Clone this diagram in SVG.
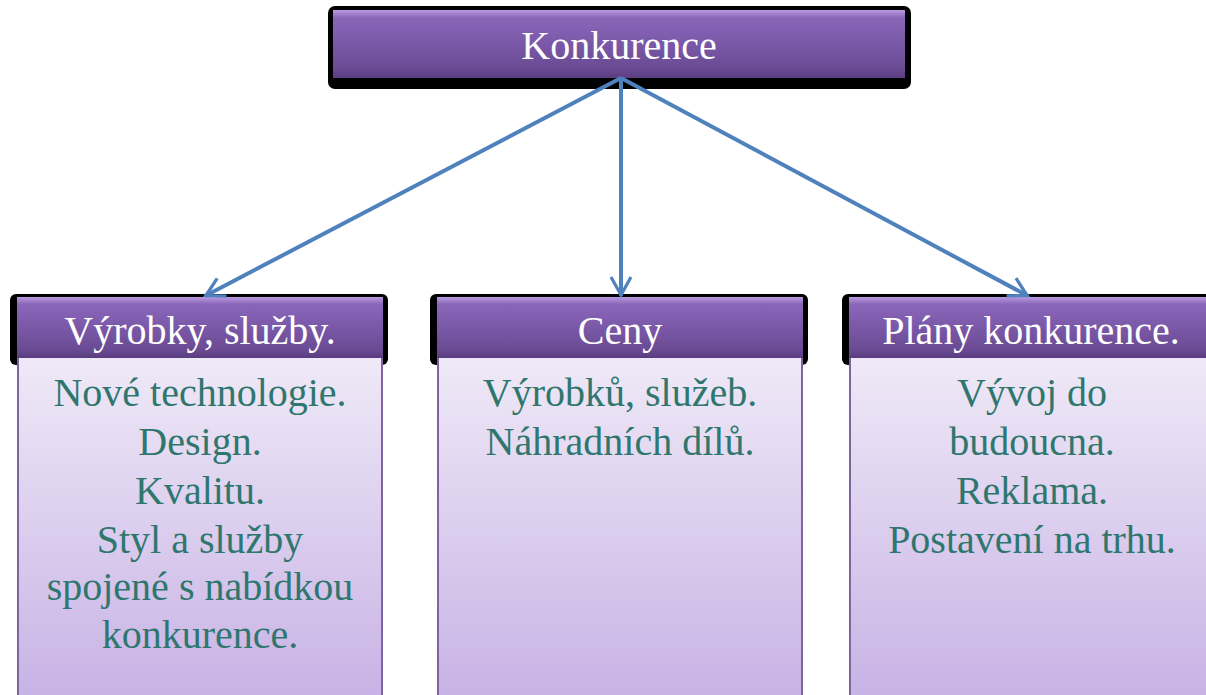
<svg xmlns="http://www.w3.org/2000/svg" width="1206" height="695" viewBox="0 0 1206 695">
  <defs>
    <linearGradient id="bar" x1="0" y1="0" x2="0" y2="1">
      <stop offset="0" stop-color="#b89ae0"/>
      <stop offset="0.12" stop-color="#8a66b8"/>
      <stop offset="0.5" stop-color="#7a58a8"/>
      <stop offset="0.88" stop-color="#694a92"/>
      <stop offset="1" stop-color="#5a3c80"/>
    </linearGradient>
    <linearGradient id="panel" x1="0" y1="0" x2="0" y2="1">
      <stop offset="0" stop-color="#efe9f7"/>
      <stop offset="1" stop-color="#c7b2e5"/>
    </linearGradient>
    <marker id="arrow" viewBox="0 0 12 12" refX="10.5" refY="6" markerWidth="6" markerHeight="6" orient="auto" markerUnits="strokeWidth">
      <path d="M1,1 L10,6 L1,11" fill="none" stroke="#4f81bd" stroke-width="1.6" stroke-linejoin="miter"/>
    </marker>
    <style>
      .shadow { fill: #000; }
      .bar { fill: url(#bar); }
      .panel { fill: url(#panel); }
      .edge { stroke: #8064a2; stroke-width: 2; }
      .title { font-family: "Liberation Serif", "Times New Roman", serif; font-size: 40px; fill: #ffffff; text-anchor: middle; }
      .body { font-family: "Liberation Serif", "Times New Roman", serif; font-size: 40px; fill: #2f776e; text-anchor: middle; }
      .link { stroke: #4f81bd; stroke-width: 4; fill: none; marker-end: url(#arrow); }
    </style>
  </defs>

  <rect width="1206" height="695" fill="#ffffff"/>

  <!-- root node -->
  <g id="node-konkurence">
    <rect class="shadow" x="328" y="6" width="583" height="83" rx="7"/>
    <rect class="bar" x="333" y="10" width="572" height="68"/>
    <text class="title" x="619" y="59">Konkurence</text>
  </g>

  <!-- products / services -->
  <g id="node-vyrobky">
    <rect class="shadow" x="10" y="294" width="378" height="71" rx="6"/>
    <rect class="bar" x="17" y="297" width="366" height="61"/>
    <text class="title" x="200" y="344">Výrobky, služby.</text>
    <rect class="panel" x="18" y="358" width="364" height="343"/>
    <line class="edge" x1="18" y1="358" x2="18" y2="695"/>
    <line class="edge" x1="382" y1="358" x2="382" y2="695"/>
    <text class="body" x="200" y="406">Nové technologie.</text>
    <text class="body" x="200" y="455">Design.</text>
    <text class="body" x="200" y="504">Kvalitu.</text>
    <text class="body" x="200" y="553">Styl a služby</text>
    <text class="body" x="200" y="600">spojené s nabídkou</text>
    <text class="body" x="200" y="648">konkurence.</text>
  </g>

  <!-- prices -->
  <g id="node-ceny">
    <rect class="shadow" x="430" y="294" width="378" height="71" rx="6"/>
    <rect class="bar" x="437" y="297" width="366" height="61"/>
    <text class="title" x="620" y="344">Ceny</text>
    <rect class="panel" x="438" y="358" width="364" height="343"/>
    <line class="edge" x1="438" y1="358" x2="438" y2="695"/>
    <line class="edge" x1="802" y1="358" x2="802" y2="695"/>
    <text class="body" x="620" y="406">Výrobků, služeb.</text>
    <text class="body" x="620" y="455">Náhradních dílů.</text>
  </g>

  <!-- competitor plans -->
  <g id="node-plany">
    <rect class="shadow" x="842" y="294" width="378" height="71" rx="6"/>
    <rect class="bar" x="849" y="297" width="366" height="61"/>
    <text class="title" x="1031" y="344">Plány konkurence.</text>
    <rect class="panel" x="850" y="358" width="364" height="343"/>
    <line class="edge" x1="850" y1="358" x2="850" y2="695"/>
    <text class="body" x="1032" y="406">Vývoj do</text>
    <text class="body" x="1032" y="455">budoucna.</text>
    <text class="body" x="1032" y="504">Reklama.</text>
    <text class="body" x="1032" y="553">Postavení na trhu.</text>
  </g>

  <!-- connectors -->
  <g id="connectors">
    <line class="link" x1="621" y1="78" x2="205" y2="296"/>
    <line class="link" x1="621" y1="78" x2="621" y2="296"/>
    <line class="link" x1="621" y1="78" x2="1028" y2="296"/>
  </g>
</svg>
